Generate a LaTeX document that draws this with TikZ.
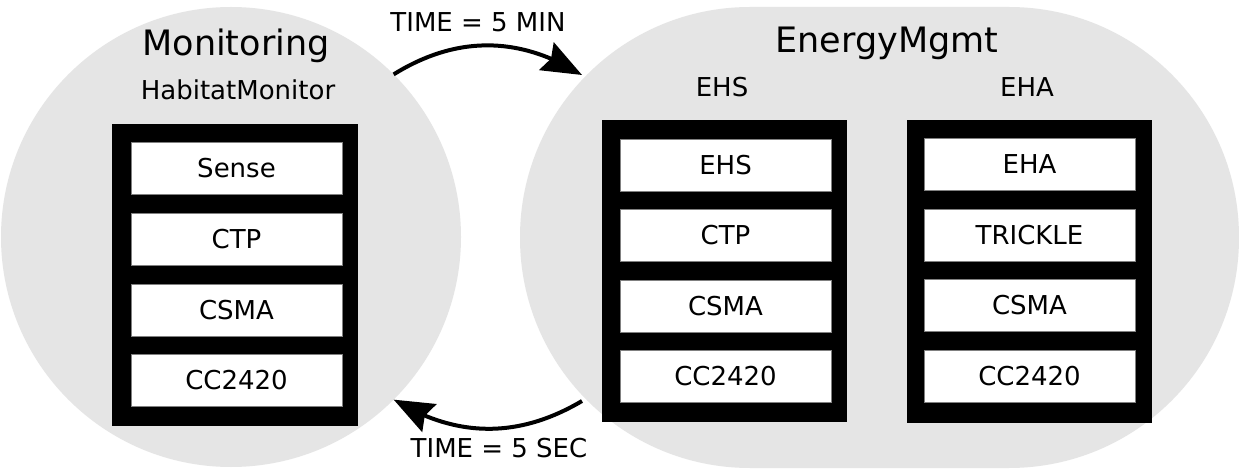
\documentclass[tikz,border=0pt]{standalone}
\usepackage{fontspec}
\setmainfont{DejaVu Sans}
\usetikzlibrary{arrows.meta,bending}
\begin{document}
\begin{tikzpicture}[x=1pt,y=1pt,
  zone/.style={fill=zoneGray,draw=none,inner sep=0pt,outer sep=0pt},
  stack/.style={fill=black,draw=none,inner sep=0pt,minimum width=245pt,minimum height=302pt},
  layer/.style={fill=white,draw=gray,line width=0.6pt,inner sep=0pt,minimum width=211pt,minimum height=52pt,
    font=\fontsize{26}{30}\selectfont,text height=19pt,text depth=0pt},
  zonetitle/.style={anchor=base,inner sep=0pt,outer sep=0pt,font=\fontsize{35}{40}\selectfont},
  apptitle/.style={anchor=base,inner sep=0pt,outer sep=0pt,font=\fontsize{26}{30}\selectfont},
  period/.style={line width=4pt,-{Stealth[length=40pt,width=31pt,inset=5pt,flex]}}]
\definecolor{zoneGray}{RGB}{229,229,229}
\path[use as bounding box,fill=white] (0,0) rectangle (1239,469);

% the two modes
\node[zone,circle,minimum size=460pt] (monitoring) at (231,232) {};
\node[zone,rectangle,rounded corners=230pt,minimum width=719pt,minimum height=461pt] (energy) at (879.5,231.5) {};

\node[zonetitle] (monTitle) at (236,413) {Monitoring};
\node[apptitle] (habTitle) at (238,369) {HabitatMonitor};
\node[zonetitle] (nrgTitle) at (887,416) {EnergyMgmt};
\node[apptitle] (ehsTitle) at (722,372) {EHS};
\node[apptitle] (ehaTitle) at (1027,372) {EHA};

% HabitatMonitor stack
\node[stack,minimum width=246pt] (habStack) at (235,194) {};
\node[layer] (habSense) at (236.5,301) {Sense};
\node[layer] (habCTP) at (236.5,230) {CTP};
\node[layer] (habCSMA) at (236.5,159) {CSMA};
\node[layer] (habRadio) at (236.5,89) {CC2420};

% EHS stack
\node[stack] (ehsStack) at (724.5,198) {};
\node[layer] (ehsApp) at (725.5,304) {EHS};
\node[layer] (ehsCTP) at (725.5,234) {CTP};
\node[layer] (ehsCSMA) at (725.5,163) {CSMA};
\node[layer] (ehsRadio) at (725.5,93) {CC2420};

% EHA stack
\node[stack] (ehaStack) at (1029.5,197.5) {};
\node[layer] (ehaApp) at (1029.5,305) {EHA};
\node[layer] (ehaTrickle) at (1029.5,234) {TRICKLE};
\node[layer] (ehaCSMA) at (1029.5,164) {CSMA};
\node[layer] (ehaRadio) at (1029.5,93) {CC2420};

% switching between modes
\coordinate (minIn) at (582,394);
\coordinate (secOut) at (582,68);
\draw[period] (monitoring.45) to[bend left=32] (minIn);
\draw[period] (secOut) to[bend left=31] (monitoring.-45);

\node[apptitle] (minText) at (478,437) {TIME = 5 MIN};
\node[apptitle] (secText) at (499,12) {TIME = 5 SEC};
\end{tikzpicture}
\end{document}
